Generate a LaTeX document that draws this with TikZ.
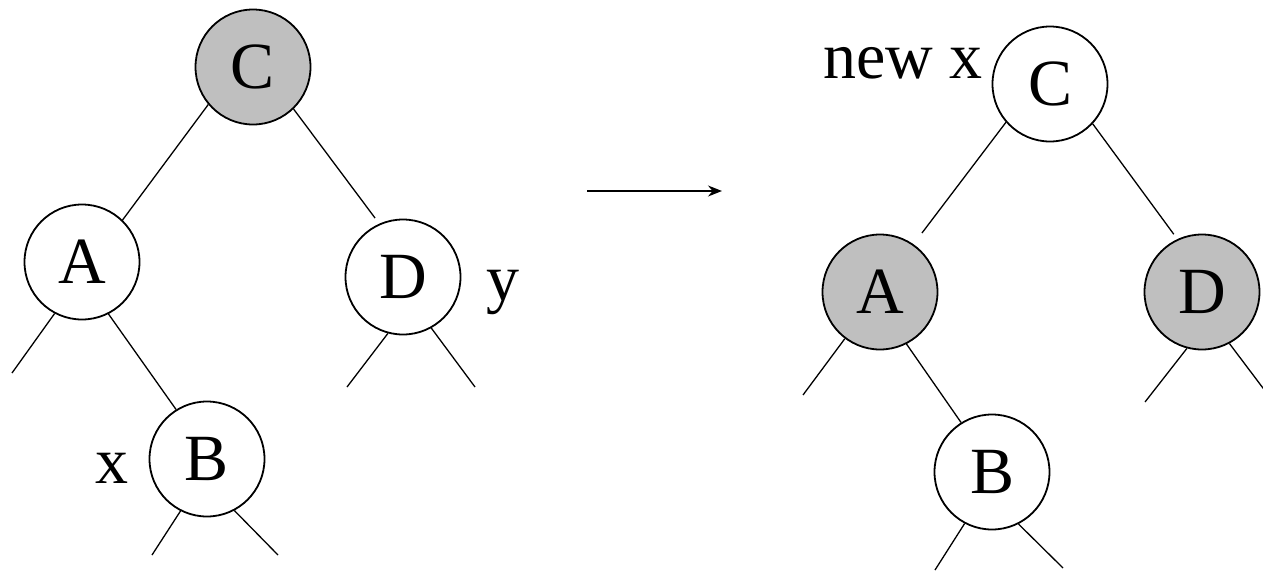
\documentclass[tikz,border=0pt]{standalone}
\usepackage{fontspec}
\setmainfont{Liberation Serif}
\usetikzlibrary{arrows.meta}
\begin{document}
\begin{tikzpicture}[x=1pt,y=-1pt,
  tnode/.style={circle,draw=black,line width=1.8pt,minimum size=115pt,inner sep=0pt,font=\fontsize{66}{70}\selectfont},
  red/.style={tnode,fill=black!25},
  edge/.style={line width=1.3pt},
  lbl/.style={font=\fontsize{66}{70}\selectfont,inner sep=0pt}]
\useasboundingbox (0,0) rectangle (1263,573);
\clip (0,0) rectangle (1263,573);
% left tree
\node[red]  (lC) at (253,67)  {C};
\node[tnode] (lA) at (82,262)  {A};
\node[tnode] (lD) at (403,277) {D};
\node[tnode] (lB) at (207,459) {B};
\node[lbl,anchor=base] (lx) at (112,483) {x};
\node[lbl,anchor=base] (ly) at (503,300) {y};
\coordinate (lA1) at (12,373);
\coordinate (lD1) at (347,387);
\coordinate (lD2) at (475,387);
\coordinate (lB1) at (152,555);
\coordinate (lB2) at (278,555);
\draw[edge] (lC.220) -- (lA.46);
\draw[edge,shorten >=7pt] (lC.314) -- (lD.114);
\draw[edge] (lA.242) -- (lA1);
\draw[edge] (lA.297) -- (lB.122);
\draw[edge] (lD.255) -- (lD1);
\draw[edge] (lD.299) -- (lD2);
\draw[edge] (lB.243) -- (lB1);
\draw[edge] (lB.298) -- (lB2);
% arrow
\coordinate (a1) at (587,191);
\coordinate (a2) at (722,191);
\draw[line width=1.5pt,-{Stealth[length=14pt,width=11pt]}] (a1) -- (a2);
% right tree
\node[tnode] (rC) at (1050,84)  {C};
\node[red]   (rA) at (880,292)  {A};
\node[red]   (rD) at (1202,292) {D};
\node[tnode] (rB) at (992,472)  {B};
\node[lbl,anchor=base west] (nx) at (823,78) {new x};
\coordinate (rA1) at (803,395);
\coordinate (rD1) at (1145,402);
\coordinate (rD2) at (1275,404);
\coordinate (rB1) at (935,570);
\coordinate (rB2) at (1063,568);
\draw[edge,shorten >=14pt] (rC.221) -- (rA.55);
\draw[edge,shorten >=6pt] (rC.317) -- (rD.115);
\draw[edge] (rA.233) -- (rA1);
\draw[edge] (rA.297) -- (rB.122);
\draw[edge] (rD.255) -- (rD1);
\draw[edge] (rD.298) -- (rD2);
\draw[edge] (rB.242) -- (rB1);
\draw[edge] (rB.297) -- (rB2);
\end{tikzpicture}
\end{document}
